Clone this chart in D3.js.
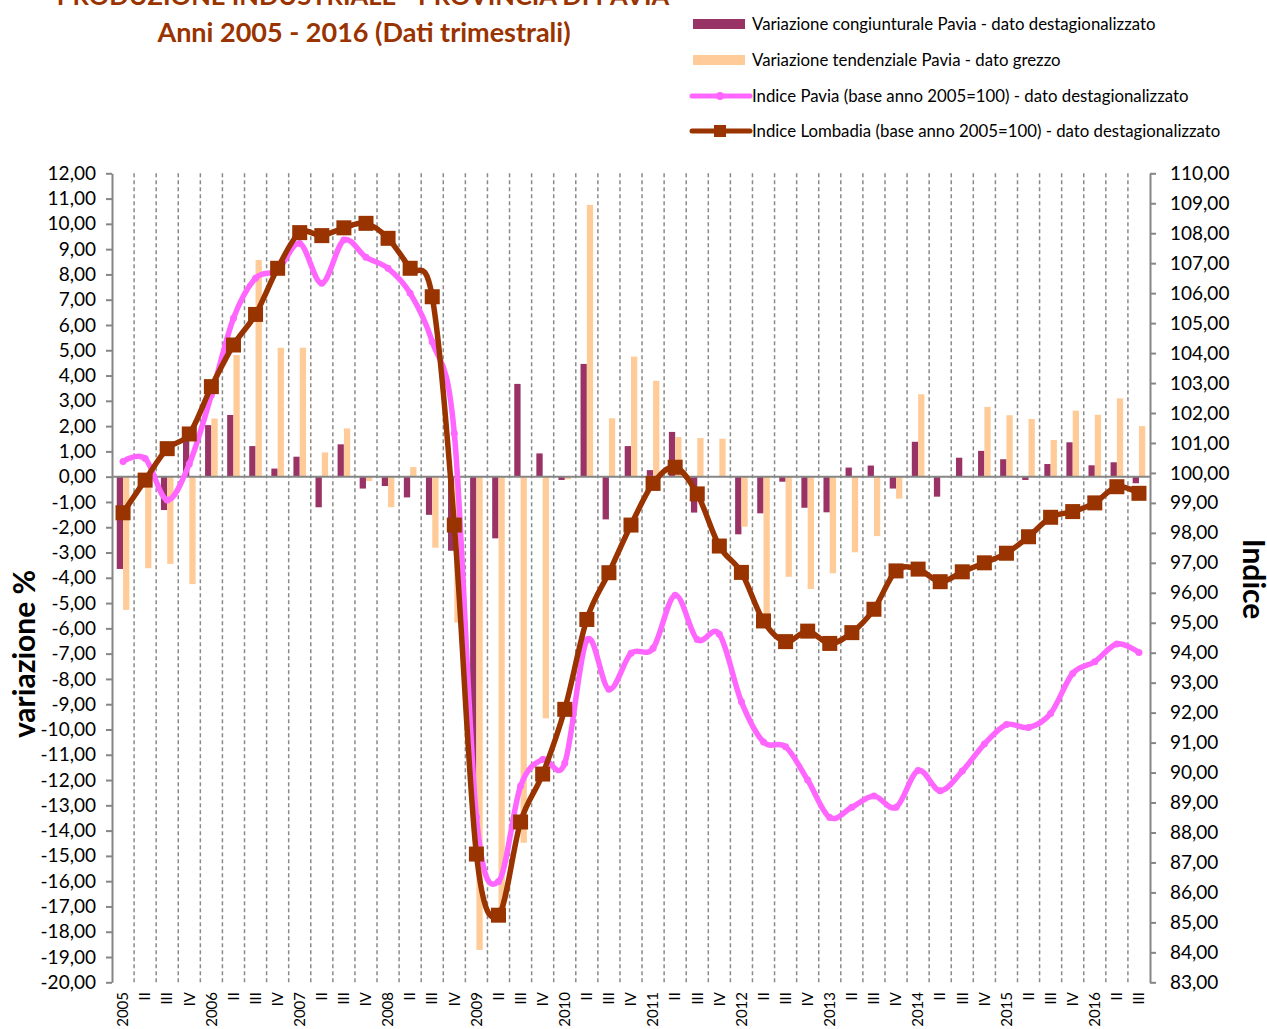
<!DOCTYPE html>
<html>
<head>
<meta charset="utf-8">
<script src="https://cdn.jsdelivr.net/npm/d3@7"></script>
<style>
  body { margin: 0; background: #fff; }
  svg { display: block; font-family: Lato, "Open Sans", sans-serif; }
</style>
</head>
<body>
<div id="chart"></div>
<script>
// quarters 2005 I .. 2016 III
var years = [2005, 2006, 2007, 2008, 2009, 2010, 2011, 2012, 2013, 2014, 2015, 2016];
var quarterNames = ["", "II", "III", "IV"];
var categories = [];
years.forEach(y => quarterNames.forEach((q, i) => {
    if (y == 2016 && i == 3) return;
    categories.push(i == 0 ? String(y) : q);
}));

var congiunturale = [-3.65, -0.3, -1.32, 1.45, 2.04, 2.44, 1.21, 0.32, 0.79, -1.21, 1.28, -0.47,
    -0.37, -0.82, -1.51, -2.93, -13.0, -2.44, 3.67, 0.92, -0.13, 4.46, -1.69, 1.21,
    0.26, 1.77, -1.42, 0, -2.28, -1.45, -0.2, -1.23, -1.41, 0.36, 0.44, -0.47,
    1.38, -0.79, 0.75, 1.02, 0.69, -0.13, 0.5, 1.36, 0.45, 0.57, -0.26];

var tendenziale = [-5.27, -3.62, -3.45, -4.25, 2.3, 4.81, 8.57, 5.1, 5.1, 0.96, 1.91, -0.17,
    -1.21, 0.38, -2.81, -5.77, -18.72, -17.5, -14.48, -9.56, -0.1, 10.75, 2.31, 4.75,
    3.79, 1.57, 1.53, 1.5, -1.98, -5.5, -3.96, -4.44, -3.82, -2.99, -2.35, -0.87,
    3.26, 0, 0, 2.76, 2.43, 2.28, 1.45, 2.61, 2.45, 3.1, 2.0];

var indicePavia = [100.38, 100.48, 99.1, 100.3, 102.6, 105.16, 106.5, 106.77, 107.66, 106.33, 107.77, 107.2,
    106.83, 106.0, 104.38, 101.32, 88.52, 86.36, 89.55, 90.44, 90.31, 94.42, 92.78, 93.98,
    94.15, 95.92, 94.44, 94.62, 92.36, 91.02, 90.86, 89.75, 88.5, 88.84, 89.22, 88.84,
    90.07, 89.39, 90.05, 90.95, 91.6, 91.5, 91.97, 93.31, 93.7, 94.29, 94.01];

var indiceLombardia = [98.67, 99.76, 100.81, 101.3, 102.88, 104.27, 105.29, 106.83, 108.02, 107.92, 108.18, 108.33,
    107.83, 106.83, 105.88, 98.26, 87.28, 85.24, 88.35, 89.95, 92.11, 95.11, 96.67, 98.26,
    99.65, 100.19, 99.3, 97.56, 96.68, 95.06, 94.37, 94.72, 94.31, 94.67, 95.45, 96.73,
    96.79, 96.37, 96.7, 97.0, 97.32, 97.87, 98.52, 98.71, 99.0, 99.54, 99.32];

var legendLabels = [
    "Variazione congiunturale Pavia - dato destagionalizzato",
    "Variazione tendenziale Pavia - dato grezzo",
    "Indice Pavia (base anno 2005=100) - dato destagionalizzato",
    "Indice Lombadia (base anno 2005=100) - dato destagionalizzato"
];

var col_cong = "#993366", col_tend = "#FFCC99", col_pavia = "#FF66FF", col_lomb = "#993300";
var col_axis = "#868686", col_title = "#993300";

var width = 1267, height = 1029;
var plotLeft = 112, plotRight = 1150, plotTop = 173.3, plotBottom = 982.3;

var it = d3.formatLocale({decimal: ",", thousands: ".", grouping: [3], currency: ["", "€"], minus: "-"});
var fmt = it.format(".2f");

var svg = d3.select("#chart").append("svg")
    .attr("width", width)
    .attr("height", height);

var x = d3.scaleBand().domain(d3.range(categories.length)).range([plotLeft, plotRight]).padding(0);
var bw = x.bandwidth();
var xs = d3.scaleBand().domain([0, 1]).range([-6.3, 6.3]).padding(0);
var yL = d3.scaleLinear().domain([-20, 12]).range([plotBottom, plotTop]);
var yR = d3.scaleLinear().domain([83, 110]).range([plotBottom, plotTop]);
var cx = i => x(i) + bw / 2;

//dashed category gridlines
svg.append("g").selectAll("line")
    .data(d3.range(1, categories.length))
    .enter().append("line")
    .attr("x1", i => x(i)).attr("x2", i => x(i))
    .attr("y1", plotTop).attr("y2", plotBottom)
    .attr("stroke", "#8a8a8a")
    .attr("stroke-width", 1.5)
    .attr("stroke-dasharray", "4,3");

//bars
function bars(data, k, color){
    svg.append("g").selectAll("rect")
        .data(data)
        .enter().append("rect")
        .attr("x", (d, i) => cx(i) + xs(k))
        .attr("width", xs.bandwidth())
        .attr("y", d => Math.min(yL(d), yL(0)))
        .attr("height", d => Math.abs(yL(d) - yL(0)))
        .attr("fill", color);
}
bars(congiunturale, 0, col_cong);
bars(tendenziale, 1, col_tend);

//zero line
svg.append("line")
    .attr("x1", plotLeft).attr("x2", plotRight)
    .attr("y1", yL(0)).attr("y2", yL(0))
    .attr("stroke", col_axis).attr("stroke-width", 2);

//left axis
var axL = svg.append("g")
    .attr("transform", "translate(" + plotLeft + ",0)")
    .call(d3.axisLeft(yL).tickValues(d3.range(-20, 13, 1)).tickFormat(fmt).tickSize(6).tickSizeOuter(0).tickPadding(10));
//right axis
var axR = svg.append("g")
    .attr("transform", "translate(" + plotRight + ",0)")
    .call(d3.axisRight(yR).tickValues(d3.range(83, 111, 1)).tickFormat(fmt).tickSize(6).tickSizeOuter(0).tickPadding(14));
[axL, axR].forEach(a => {
    a.select(".domain").attr("stroke", col_axis).attr("stroke-width", 2);
    a.selectAll(".tick line").attr("stroke", col_axis).attr("stroke-width", 2);
    a.selectAll("text").attr("font-size", 19).attr("fill", "#000").attr("font-family", "Lato, sans-serif");
});

//category labels
svg.append("g").selectAll("text")
    .data(categories)
    .enter().append("text")
    .attr("transform", (d, i) => "translate(" + cx(i) + "," + 992 + ") rotate(-90)")
    .attr("text-anchor", "end")
    .attr("dy", "0.35em")
    .attr("font-size", 15)
    .text(d => d);

//lines
var smooth = d3.line().x((d, i) => cx(i)).y(d => yR(d)).curve(d3.curveCardinal);
svg.append("path")
    .datum(indicePavia)
    .attr("d", smooth)
    .attr("fill", "none")
    .attr("stroke", col_pavia)
    .attr("stroke-width", 5.5);
svg.append("g").selectAll("circle")
    .data(indicePavia)
    .enter().append("circle")
    .attr("cx", (d, i) => cx(i)).attr("cy", d => yR(d))
    .attr("r", 3.5).attr("fill", col_pavia);

svg.append("path")
    .datum(indiceLombardia)
    .attr("d", smooth)
    .attr("fill", "none")
    .attr("stroke", col_lomb)
    .attr("stroke-width", 5.5);
svg.append("g").selectAll("rect")
    .data(indiceLombardia)
    .enter().append("rect")
    .attr("x", (d, i) => cx(i) - 7.5).attr("y", d => yR(d) - 7.5)
    .attr("width", 15).attr("height", 15)
    .attr("fill", col_lomb);

//titles
svg.append("text")
    .attr("x", 363).attr("y", 5)
    .attr("text-anchor", "middle")
    .attr("font-size", 25.5).attr("font-weight", "bold")
    .attr("fill", col_title)
    .text("PRODUZIONE INDUSTRIALE - PROVINCIA DI PAVIA");
svg.append("text")
    .attr("x", 364).attr("y", 42)
    .attr("text-anchor", "middle")
    .attr("font-size", 27).attr("font-weight", "bold")
    .attr("fill", col_title)
    .text("Anni 2005 - 2016 (Dati trimestrali)");

svg.append("text")
    .attr("transform", "translate(35,654) rotate(-90)")
    .attr("text-anchor", "middle")
    .attr("font-size", 30).attr("font-weight", "bold")
    .text("variazione %");
svg.append("text")
    .attr("transform", "translate(1243,579) rotate(90)")
    .attr("text-anchor", "middle")
    .attr("font-size", 30).attr("font-weight", "bold")
    .text("Indice");

//legend
var legendY = [24, 60, 96, 131];
var lg = svg.append("g");
lg.append("rect").attr("x", 693).attr("y", legendY[0] - 5).attr("width", 52).attr("height", 10).attr("fill", col_cong);
lg.append("rect").attr("x", 693).attr("y", legendY[1] - 5).attr("width", 52).attr("height", 10).attr("fill", col_tend);
lg.append("line").attr("x1", 692).attr("x2", 750).attr("y1", legendY[2]).attr("y2", legendY[2])
    .attr("stroke", col_pavia).attr("stroke-width", 5).attr("stroke-linecap", "round");
lg.append("circle").attr("cx", 720).attr("cy", legendY[2]).attr("r", 4).attr("fill", col_pavia);
lg.append("line").attr("x1", 692).attr("x2", 750).attr("y1", legendY[3]).attr("y2", legendY[3])
    .attr("stroke", col_lomb).attr("stroke-width", 5).attr("stroke-linecap", "round");
lg.append("rect").attr("x", 714).attr("y", legendY[3] - 6).attr("width", 12).attr("height", 12).attr("fill", col_lomb);
lg.selectAll("text")
    .data(legendLabels)
    .enter().append("text")
    .attr("x", 752).attr("y", (d, i) => legendY[i])
    .attr("dy", "0.35em")
    .attr("font-size", 16.8)
    .text(d => d);
</script>
</body>
</html>
